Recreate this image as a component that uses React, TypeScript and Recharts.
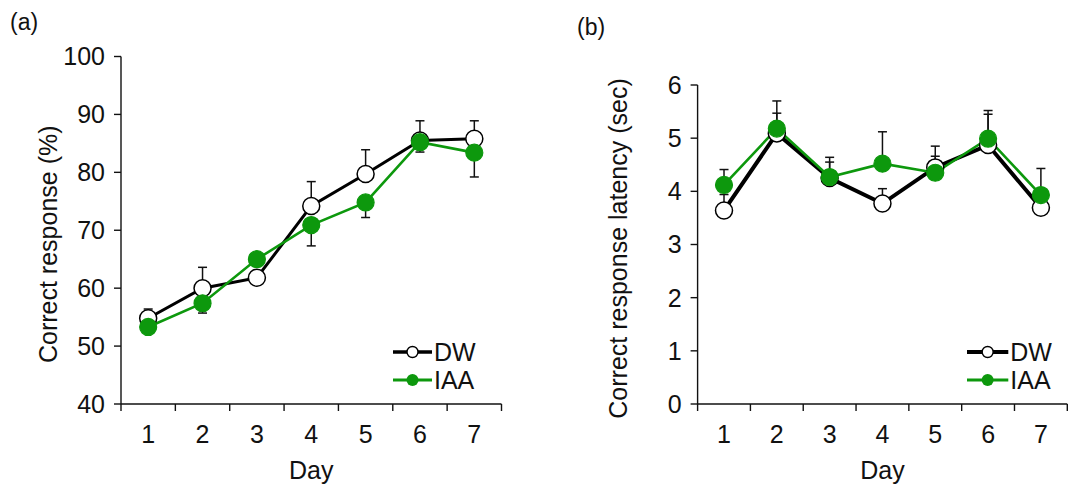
import React from 'react';
import { LineChart, Line, XAxis, YAxis, ErrorBar } from 'recharts';

// values (mean, SEM)
const days = [1, 2, 3, 4, 5, 6, 7];

const rateDW = [54.8, 60.0, 61.8, 74.2, 79.7, 85.5, 85.8];
const rateDWErr = [1.6, 3.6, 0.4, 4.2, 4.2, 3.4, 3.1];
const rateIAA = [53.3, 57.4, 65.0, 70.9, 74.8, 85.2, 83.4];
const rateIAAErr = [0.6, 1.7, 0.5, 3.6, 2.6, 1.7, 4.2];

const latDW = [3.64, 5.09, 4.25, 3.77, 4.45, 4.87, 3.69];
const latDWErr = [0.3, 0.38, 0.3, 0.28, 0.21, 0.58, 0.2];
const latIAA = [4.12, 5.18, 4.27, 4.52, 4.35, 4.99, 3.93];
const latIAAErr = [0.29, 0.52, 0.37, 0.6, 0.5, 0.53, 0.5];

const rateTicks = [40, 50, 60, 70, 80, 90, 100];
const latTicks = [0, 1, 2, 3, 4, 5, 6];
// labels on whole days, tick marks between them
const dayTicks = [...days.flatMap((d) => [d - 0.5, d]), days[days.length - 1] + 0.5];

const GREEN = '#0d980d';
const INK = '#111';
const FONT = '"Liberation Sans", Arial, sans-serif';

const rateData = days.map((day, i) => ({
  day,
  dw: rateDW[i],
  dwErr: [0, rateDWErr[i]],
  iaa: rateIAA[i],
  iaaErr: [rateIAAErr[i], 0],
}));

const latData = days.map((day, i) => ({
  day,
  dw: latDW[i],
  dwErr: [0, latDWErr[i]],
  iaa: latIAA[i],
  iaaErr: [0, latIAAErr[i]],
}));

function DayTick(props: any) {
  const { x, y, payload } = props;
  const v = payload.value;
  if (!Number.isInteger(v)) {
    return <line x1={x} x2={x} y1={y} y2={y + 7} stroke={INK} strokeWidth={1.4} />;
  }
  return (
    <text x={x} y={y + 39} textAnchor="middle" fontSize={25} fontFamily={FONT} fill={INK}>
      {v}
    </text>
  );
}

const yTitle = (value: string, shiftX: number, shiftY: number) => (props: any) => {
  const vb = props.viewBox || { x: 0, y: 0, width: 0, height: 0 };
  const cx = vb.x + vb.width / 2 + shiftX;
  const cy = vb.y + vb.height / 2 + shiftY;
  return (
    <text
      x={cx}
      y={cy}
      transform={`rotate(-90 ${cx} ${cy})`}
      textAnchor="middle"
      dominantBaseline="central"
      fontSize={25}
      fontFamily={FONT}
      fill={INK}
    >
      {value}
    </text>
  );
};

const xTitle = (value: string) => (props: any) => {
  const vb = props.viewBox || { x: 0, y: 0, width: 0, height: 0 };
  return (
    <text
      x={vb.x + vb.width / 2}
      y={vb.y + vb.height - 7}
      textAnchor="middle"
      fontSize={25}
      fontFamily={FONT}
      fill={INK}
    >
      {value}
    </text>
  );
};

function LegendKey({ left, top, x0, x1, blackWidth }: any) {
  const mid = (x0 + x1) / 2;
  return (
    <svg
      style={{ position: 'absolute', left, top, overflow: 'visible' }}
      width={x1 - x0 + 60}
      height={60}
    >
      <line x1={0} x2={x1 - x0} y1={10} y2={10} stroke="#000" strokeWidth={blackWidth} />
      <circle cx={mid - x0} cy={10} r={5.5} fill="#fff" stroke="#000" strokeWidth={1.4} />
      <text x={x1 - x0 + 2} y={19} fontSize={25} fontFamily={FONT} fill={INK}>DW</text>
      <line x1={0} x2={x1 - x0} y1={38} y2={38} stroke={GREEN} strokeWidth={3} />
      <circle cx={mid - x0} cy={38} r={6} fill={GREEN} />
      <text x={x1 - x0 + 2} y={47} fontSize={25} fontFamily={FONT} fill={INK}>IAA</text>
    </svg>
  );
}

interface PanelProps {
  data: Record<string, unknown>[];
  ticks: number[];
  domain: [number, number];
  axisWidth: number;
  width: number;
  top: number;
  right: number;
  title: string;
  titleShift: [number, number];
  blackWidth: number;
}

function Panel({ data, ticks, domain, axisWidth, width, top, right, title, titleShift, blackWidth }: PanelProps) {
  return (
    <LineChart width={width} height={486} data={data} margin={{ top, right, bottom: 0, left: 0 }}>
      <XAxis
        dataKey="day"
        type="number"
        domain={[0.5, 7.5]}
        ticks={dayTicks}
        interval={0}
        tick={<DayTick />}
        tickLine={false}
        tickSize={0}
        tickMargin={0}
        height={82}
        axisLine={{ stroke: INK, strokeWidth: 1.4 }}
        label={xTitle('Day')}
      />
      <YAxis
        type="number"
        domain={domain}
        ticks={ticks}
        interval={0}
        width={axisWidth}
        tickSize={7}
        tickMargin={9}
        tick={{ fontSize: 25, fill: INK, fontFamily: FONT }}
        tickLine={{ stroke: INK, strokeWidth: 1.4 }}
        axisLine={{ stroke: INK, strokeWidth: 1.4 }}
        label={yTitle(title, titleShift[0], titleShift[1])}
      />
      <Line
        dataKey="dw"
        stroke="#000"
        strokeWidth={blackWidth}
        isAnimationActive={false}
        dot={{ r: 8.5, fill: '#fff', stroke: '#000', strokeWidth: 1.5 }}
        activeDot={false}
      >
        <ErrorBar dataKey="dwErr" width={4.5} stroke={INK} strokeWidth={1.5} />
      </Line>
      <Line
        dataKey="iaa"
        stroke={GREEN}
        strokeWidth={2.6}
        isAnimationActive={false}
        dot={{ r: 8.5, fill: GREEN, stroke: GREEN, strokeWidth: 1.2 }}
        activeDot={false}
      >
        <ErrorBar dataKey="iaaErr" width={4.5} stroke={INK} strokeWidth={1.5} />
      </Line>
    </LineChart>
  );
}

export default function App() {
  return (
    <div style={{ position: 'absolute', left: 0, top: 0, width: 1076, height: 486, background: '#fff', fontFamily: FONT }}>
      <div style={{ position: 'absolute', left: 0, top: 0 }}>
        <Panel
          data={rateData}
          ticks={rateTicks}
          domain={[40, 100]}
          axisWidth={121}
          width={540}
          top={56.5}
          right={38.5}
          title="Correct response (%)"
          titleShift={[-13, 14]}
          blackWidth={3}
        />
      </div>
      <div style={{ position: 'absolute', left: 540, top: 0 }}>
        <Panel
          data={latData}
          ticks={latTicks}
          domain={[0, 6]}
          axisWidth={157.6}
          width={536}
          top={85}
          right={8.7}
          title="Correct response latency (sec)"
          titleShift={[-1, 4]}
          blackWidth={4}
        />
      </div>
      <div style={{ position: 'absolute', left: 10, top: 9, fontSize: 23, color: INK }}>(a)</div>
      <div style={{ position: 'absolute', left: 577, top: 14, fontSize: 23, color: INK }}>(b)</div>
      <LegendKey left={392.7} top={342} x0={392.7} x1={431.7} blackWidth={3.5} />
      <LegendKey left={966.7} top={342} x0={966.7} x1={1008} blackWidth={4} />
    </div>
  );
}
